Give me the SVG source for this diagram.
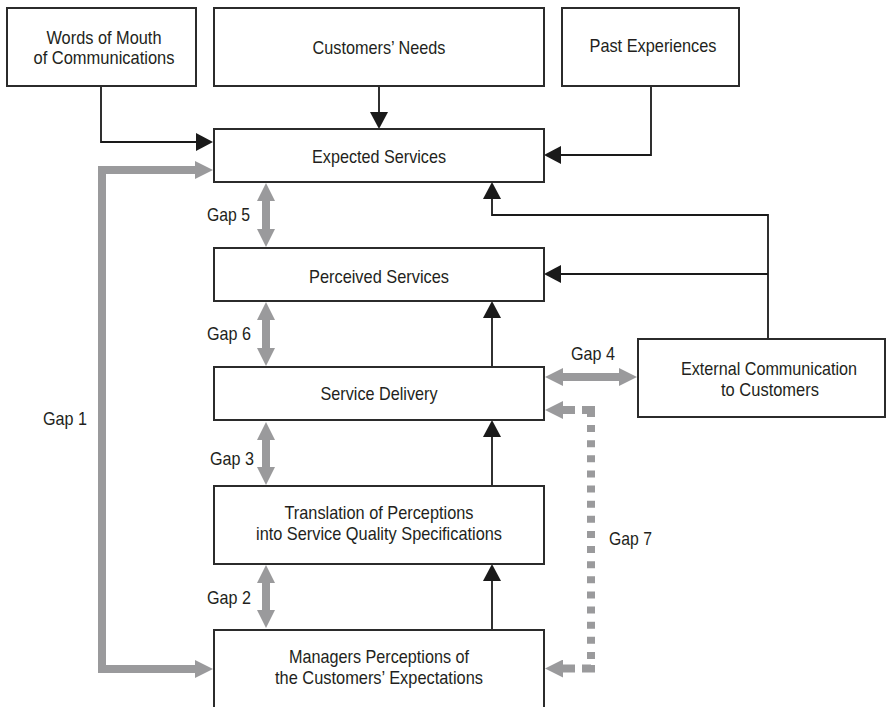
<svg xmlns="http://www.w3.org/2000/svg" width="888" height="707" viewBox="0 0 888 707">
<style>
.box{fill:#fff;stroke:#2b2b2b;stroke-width:2}
.t{font-family:"Liberation Sans Narrow","Arial Narrow","Liberation Sans",sans-serif;font-size:19px;fill:#231f20;text-anchor:middle}
.g{font-family:"Liberation Sans Narrow","Arial Narrow","Liberation Sans",sans-serif;font-size:19px;fill:#231f20}
.blk{fill:none;stroke:#1a1a1a;stroke-width:1.8}
.gry{fill:none;stroke:#9a9a9c;stroke-width:8}
</style>
<defs>
<marker id="ab" markerUnits="userSpaceOnUse" markerWidth="17" markerHeight="18" refX="15" refY="9" orient="auto">
<path d="M0,0 L17,9 L0,18 z" fill="#1a1a1a"/>
</marker>
<marker id="ag" markerUnits="userSpaceOnUse" markerWidth="18" markerHeight="18" refX="8" refY="9" orient="auto-start-reverse">
<path d="M0,0 L18,9 L0,18 z" fill="#9a9a9c"/>
</marker>
</defs>

<g id="connectors">
<path class="blk" d="M101,86 V142 H211" marker-end="url(#ab)"/>
<path class="blk" d="M379,86 V127" marker-end="url(#ab)"/>
<path class="blk" d="M651,86 V155 H546" marker-end="url(#ab)"/>
<path class="blk" d="M768,339 V215 H492 V184" marker-end="url(#ab)"/>
<path class="blk" d="M768,274 H546" marker-end="url(#ab)"/>
<path class="blk" d="M492,367 V303" marker-end="url(#ab)"/>
<path class="blk" d="M492,486 V422" marker-end="url(#ab)"/>
<path class="blk" d="M492,630 V566" marker-end="url(#ab)"/>
<path class="gry" d="M203,170 H102 V669 H203" marker-start="url(#ag)" marker-end="url(#ag)"/>
<path class="gry" d="M266,193 V237" marker-start="url(#ag)" marker-end="url(#ag)"/>
<path class="gry" d="M266,312 V356" marker-start="url(#ag)" marker-end="url(#ag)"/>
<path class="gry" d="M266,432 V475" marker-start="url(#ag)" marker-end="url(#ag)"/>
<path class="gry" d="M266,575 V618" marker-start="url(#ag)" marker-end="url(#ag)"/>
<path class="gry" d="M555,377 H627" marker-start="url(#ag)" marker-end="url(#ag)"/>
<path class="gry" d="M575,410 H555" marker-end="url(#ag)"/>
<path class="gry" d="M575,668.5 H555" marker-end="url(#ag)"/>
<path class="gry" d="M582,410 H591 V417" stroke-linejoin="miter"/>
<path class="gry" d="M591,665 V668.5 H582" stroke-linejoin="miter"/>
<path class="gry" d="M591,425 V659" stroke-dasharray="7 8.13"/>
</g>

<g id="words"><rect class="box" x="7" y="8" width="189" height="78"/>
<text class="t" x="104" y="44" textLength="115" lengthAdjust="spacingAndGlyphs">Words of Mouth</text><text class="t" x="104" y="64" textLength="141" lengthAdjust="spacingAndGlyphs">of Communications</text></g>
<g id="needs"><rect class="box" x="214" y="8" width="330" height="78"/>
<text class="t" x="379" y="54" textLength="133" lengthAdjust="spacingAndGlyphs">Customers’ Needs</text></g>
<g id="past"><rect class="box" x="562" y="8" width="177" height="78"/>
<text class="t" x="653" y="52" textLength="127" lengthAdjust="spacingAndGlyphs">Past Experiences</text></g>
<g id="expected"><rect class="box" x="214" y="129" width="330" height="53"/>
<text class="t" x="379" y="163" textLength="134" lengthAdjust="spacingAndGlyphs">Expected Services</text></g>
<g id="perceived"><rect class="box" x="214" y="248" width="330" height="53"/>
<text class="t" x="379" y="283" textLength="140" lengthAdjust="spacingAndGlyphs">Perceived Services</text></g>
<g id="delivery"><rect class="box" x="214" y="367" width="330" height="53"/>
<text class="t" x="379" y="400" textLength="117" lengthAdjust="spacingAndGlyphs">Service Delivery</text></g>
<g id="translation"><rect class="box" x="214" y="486" width="330" height="78"/>
<text class="t" x="379" y="519" textLength="189" lengthAdjust="spacingAndGlyphs">Translation of Perceptions</text><text class="t" x="379" y="539.5" textLength="246" lengthAdjust="spacingAndGlyphs">into Service Quality Specifications</text></g>
<g id="managers"><rect class="box" x="214" y="630" width="330" height="82"/>
<text class="t" x="379" y="663" textLength="180" lengthAdjust="spacingAndGlyphs">Managers Perceptions of</text><text class="t" x="379" y="683.5" textLength="208" lengthAdjust="spacingAndGlyphs">the Customers’ Expectations</text></g>
<g id="external"><rect class="box" x="638" y="339" width="247" height="78"/>
<text class="t" x="769" y="375" textLength="176" lengthAdjust="spacingAndGlyphs">External Communication</text><text class="t" x="770" y="396" textLength="98" lengthAdjust="spacingAndGlyphs">to Customers</text></g>

<g id="gaplabels">
<text class="g" x="43" y="425" textLength="44" lengthAdjust="spacingAndGlyphs">Gap 1</text>
<text class="g" x="207" y="604" textLength="44" lengthAdjust="spacingAndGlyphs">Gap 2</text>
<text class="g" x="210" y="465" textLength="44" lengthAdjust="spacingAndGlyphs">Gap 3</text>
<text class="g" x="571" y="360" textLength="44" lengthAdjust="spacingAndGlyphs">Gap 4</text>
<text class="g" x="207" y="221" textLength="43" lengthAdjust="spacingAndGlyphs">Gap 5</text>
<text class="g" x="207" y="340" textLength="44" lengthAdjust="spacingAndGlyphs">Gap 6</text>
<text class="g" x="609" y="545" textLength="43" lengthAdjust="spacingAndGlyphs">Gap 7</text>
</g>
</svg>
